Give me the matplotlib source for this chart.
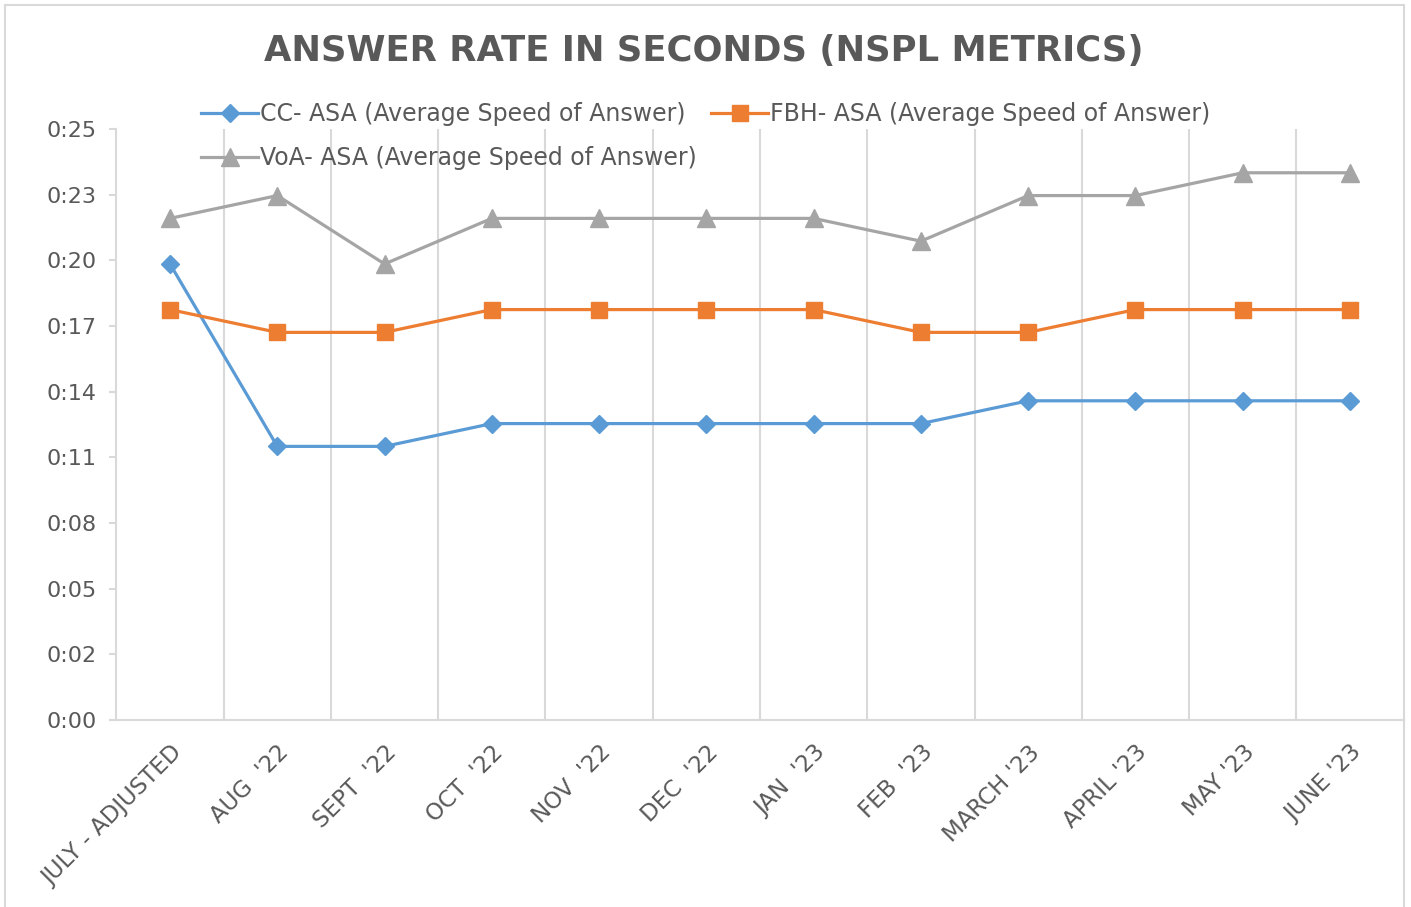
import matplotlib
matplotlib.use("Agg")
import matplotlib.pyplot as plt
from matplotlib.patches import Rectangle

# data (seconds)
months = ["JULY - ADJUSTED", "AUG  '22", "SEPT  '22", "OCT  '22", "NOV  '22", "DEC  '22",
          "JAN  '23", "FEB  '23", "MARCH '23", "APRIL '23", "MAY '23", "JUNE '23"]
cc_asa = [20, 12, 12, 13, 13, 13, 13, 13, 14, 14, 14, 14]
fbh_asa = [18, 17, 17, 18, 18, 18, 18, 17, 17, 18, 18, 18]
voa_asa = [22, 23, 20, 22, 22, 22, 22, 21, 23, 23, 24, 24]

y_max = 25.92  # 0.0003 days, as in the excel axis
y_tick_labels = ["0:00", "0:02", "0:05", "0:08", "0:11", "0:14", "0:17", "0:20", "0:23", "0:25"]

txt = "#595959"
grid = "#D9D9D9"

W, H = 1411, 907
fig = plt.figure(figsize=(W / 100, H / 100), dpi=100)
ax = fig.add_axes([116.4 / W, 1 - 720 / H, (1403.6 - 116.4) / W, (720 - 129) / H])

x = list(range(len(months)))
l_cc, = ax.plot(x, cc_asa, color="#5B9BD5", lw=2.3, marker="D", ms=9.5, label="CC- ASA (Average Speed of Answer)")
l_fbh, = ax.plot(x, fbh_asa, color="#ED7D31", lw=2.3, marker="s", ms=11, label="FBH- ASA (Average Speed of Answer)")
l_voa, = ax.plot(x, voa_asa, color="#A5A5A5", lw=2.3, marker="^", ms=12.5, label="VoA- ASA (Average Speed of Answer)")

ax.set_xlim(-0.5, len(months) - 0.5)
ax.set_ylim(0, y_max)
ax.set_yticks([y_max * i / 9 for i in range(10)])
ax.set_yticklabels(y_tick_labels)
ax.set_xticks(x)
ax.set_xticklabels(months, rotation=45, ha="right", va="top", rotation_mode="anchor")
ax.set_xticks([i + 0.5 for i in range(len(months) - 1)], minor=True)
ax.grid(True, which="minor", axis="x", color=grid, lw=1.5)
ax.tick_params(axis="x", which="both", length=0, labelsize=16.5, labelcolor=txt, pad=15)
ax.tick_params(axis="y", length=5, width=1.5, color=grid, labelsize=16, labelcolor=txt, pad=9)
for s in ["top", "right"]:
    ax.spines[s].set_visible(False)
for s in ["left", "bottom"]:
    ax.spines[s].set_color(grid)
    ax.spines[s].set_linewidth(1.5)

fig.text(704 / W, 1 - 51 / H, "ANSWER RATE IN SECONDS (NSPL METRICS)", ha="center", va="center",
         fontsize=25.5, fontweight="bold", color=txt)

# column-major filling: CC + FBH end up on the first row
leg = fig.legend([l_cc, l_voa, l_fbh], [l_cc.get_label(), l_voa.get_label(), l_fbh.get_label()],
                 loc="center", bbox_to_anchor=(706 / W, 1 - 136 / H), ncol=2, frameon=False,
                 fontsize=17, labelcolor=txt, handlelength=2.4, handletextpad=0.1,
                 columnspacing=0.6, labelspacing=0.85)

fig.patches.append(Rectangle((5 / W, -0.01), 1399 / W, 1 - 5 / H + 0.01, transform=fig.transFigure,
                             fill=False, edgecolor=grid, lw=1.5))

fig.savefig("out.png", dpi=100, facecolor="white")
